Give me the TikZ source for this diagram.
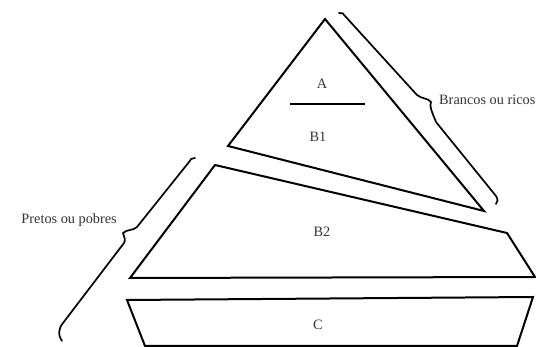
\documentclass[tikz,border=0pt]{standalone}
\usepackage{fontspec}
\setmainfont{Liberation Serif}
\begin{document}
\begin{tikzpicture}[x=1pt,y=-1pt,
  shapeline/.style={line width=2pt,line join=miter},
  braceline/.style={line width=1.7pt,line join=round,line cap=round},
  lbl/.style={font=\fontsize{14.3}{16}\selectfont,text=black!80,inner sep=0pt}]
\useasboundingbox (0,0) rectangle (536,347);
% top triangle
\draw[shapeline] (325,19) -- (484,211) -- (228,146) -- cycle;
\draw[line width=1.5pt] (290,104) -- (365,104);
\node[lbl] (A) at (322,84) {A};
\node[lbl] (B1) at (318,137) {B1};
% middle trapezoid
\draw[shapeline] (215,165) -- (507,233) -- (535,277) -- (130,278) -- cycle;
\node[lbl] (B2) at (322,232) {B2};
% bottom trapezoid
\draw[shapeline] (127,300) -- (533,297) -- (517,346) -- (145,346) -- cycle;
\node[lbl] (C) at (318,325) {C};
% right brace
\draw[braceline] (339,13) .. controls (342,12) and (344,14) .. (345,16)
  -- (417,95) .. controls (422,99) and (428,98) .. (431,102)
  .. controls (429,106) and (432,112) .. (436,122)
  -- (496,196) .. controls (498,199) and (498,202) .. (496,204);
\node[lbl,anchor=west] (R) at (439,100) {Brancos ou ricos};
% left brace
\draw[braceline] (195,158) .. controls (192,158) and (190,159) .. (189,162)
  -- (137,227) .. controls (133,231) and (127,229) .. (123,233)
  .. controls (124,237) and (126,240) .. (124,243)
  -- (63,323) .. controls (58,329) and (58,336) .. (62,341);
\node[lbl,anchor=east] (L) at (117,220) {Pretos ou pobres};
\end{tikzpicture}
\end{document}
